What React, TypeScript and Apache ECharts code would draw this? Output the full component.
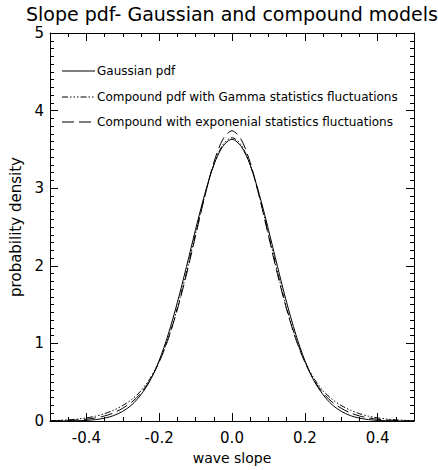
import React, { useEffect, useRef } from "react";
import * as echarts from "echarts";

const titleText = "Slope pdf- Gaussian and compound models";
const xName = "wave slope";
const yName = "probability density";

const xValues = [
  -0.5, -0.475, -0.45, -0.425, -0.4, -0.375, -0.35, -0.325, -0.3, -0.275, -0.25,
  -0.225, -0.2, -0.175, -0.15, -0.125, -0.1, -0.075, -0.05, -0.025, 0,
  0.025, 0.05, 0.075, 0.1, 0.125, 0.15, 0.175, 0.2, 0.225, 0.25,
  0.275, 0.3, 0.325, 0.35, 0.375, 0.4, 0.425, 0.45, 0.475, 0.5,
];

const gaussianPdf = [
  0, 0, 0.001, 0.003, 0.008, 0.018, 0.037, 0.07, 0.125, 0.21, 0.34,
  0.52, 0.78, 1.12, 1.53, 1.99, 2.47, 2.92, 3.3, 3.54, 3.63,
  3.54, 3.3, 2.92, 2.47, 1.99, 1.53, 1.12, 0.78, 0.52, 0.34,
  0.21, 0.125, 0.07, 0.037, 0.018, 0.008, 0.003, 0.001, 0, 0,
];

const gammaCompound = [
  0.005, 0.009, 0.015, 0.025, 0.04, 0.062, 0.095, 0.14, 0.2, 0.28, 0.39,
  0.55, 0.77, 1.07, 1.46, 1.92, 2.42, 2.9, 3.3, 3.56, 3.65,
  3.56, 3.3, 2.9, 2.42, 1.92, 1.46, 1.07, 0.77, 0.55, 0.39,
  0.28, 0.2, 0.14, 0.095, 0.062, 0.04, 0.025, 0.015, 0.009, 0.005,
];

const expCompound = [
  0.002, 0.004, 0.007, 0.013, 0.023, 0.04, 0.065, 0.105, 0.165, 0.245, 0.36,
  0.53, 0.76, 1.06, 1.44, 1.89, 2.39, 2.89, 3.33, 3.63, 3.74,
  3.63, 3.33, 2.89, 2.39, 1.89, 1.44, 1.06, 0.76, 0.53, 0.36,
  0.245, 0.165, 0.105, 0.065, 0.04, 0.023, 0.013, 0.007, 0.004, 0.002,
];

const xMajorTicks = [-0.4, -0.2, 0, 0.2, 0.4];

const seriesNames = [
  "Gaussian pdf",
  "Compound pdf with Gamma statistics fluctuations",
  "Compound with exponenial statistics fluctuations",
];
const seriesData = [gaussianPdf, gammaCompound, expCompound];
const dashTypes: any[] = ["solid", [6, 2, 1.5, 2, 1.5, 2, 1.5, 2], [12, 5]];

const FONT = "DejaVu Sans";

export default function App() {
  const ref = useRef<HTMLDivElement>(null);
  useEffect(() => {
    if (!ref.current) return;
    const chart = echarts.init(ref.current, null, { renderer: "svg" });
    const axisCommon = {
      type: "value" as const,
      min: -0.5,
      max: 0.5,
      splitLine: { show: false },
    };
    const lineStyle = { color: "#000", width: 1 };
    const legendGraphics: any[] = [];
    const legendY = [71, 97, 122];
    seriesNames.forEach((n, i) => {
      legendGraphics.push({
        type: "line",
        shape: { x1: 62, y1: legendY[i], x2: 95, y2: legendY[i] },
        style: { stroke: "#000", lineWidth: 1, lineDash: dashTypes[i] === "solid" ? null : dashTypes[i] },
      });
      legendGraphics.push({
        type: "text",
        x: 97,
        y: legendY[i],
        style: {
          text: n,
          font: `12px "${FONT}"`,
          fill: "#000",
          verticalAlign: "middle",
          align: "left",
        },
      });
    });
    chart.setOption({
      animation: false,
      backgroundColor: "#fff",
      grid: { left: 50, right: 24, top: 33, bottom: 45, containLabel: false },
      xAxis: [
        {
          ...axisCommon,
          position: "bottom",
          axisLine: { show: true, onZero: false, lineStyle },
          axisTick: { show: true, inside: true, length: 8, customValues: xMajorTicks, lineStyle },
          axisLabel: {
            show: true,
            customValues: xMajorTicks,
            formatter: (v: number) => v.toFixed(1),
            fontFamily: FONT,
            fontSize: 15,
            color: "#000",
            margin: 9,
          },
          name: xName,
          nameLocation: "middle",
          nameGap: 30,
          nameTextStyle: { fontFamily: FONT, fontSize: 14, color: "#000" },
        },
        {
          ...axisCommon,
          position: "bottom",
          interval: 0.05,
          axisLine: { show: false, onZero: false },
          axisTick: { show: true, inside: true, length: 4, lineStyle },
          axisLabel: { show: false },
        },
        {
          ...axisCommon,
          position: "top",
          axisLine: { show: true, onZero: false, lineStyle },
          axisTick: { show: true, inside: true, length: 8, customValues: xMajorTicks, lineStyle },
          axisLabel: { show: false },
        },
        {
          ...axisCommon,
          position: "top",
          interval: 0.05,
          axisLine: { show: false, onZero: false },
          axisTick: { show: true, inside: true, length: 4, lineStyle },
          axisLabel: { show: false },
        },
      ],
      yAxis: [
        {
          type: "value",
          min: 0,
          max: 5,
          interval: 1,
          position: "left",
          splitLine: { show: false },
          axisLine: { show: true, onZero: false, lineStyle },
          axisTick: { show: true, inside: true, length: 8, lineStyle },
          minorTick: { show: true, splitNumber: 10, length: 4, lineStyle },
          minorSplitLine: { show: false },
          axisLabel: { fontFamily: FONT, fontSize: 15, color: "#000", margin: 6 },
          name: yName,
          nameLocation: "middle",
          nameGap: 25,
          nameTextStyle: { fontFamily: FONT, fontSize: 15, color: "#000" },
        },
        {
          type: "value",
          min: 0,
          max: 5,
          interval: 1,
          position: "right",
          splitLine: { show: false },
          axisLine: { show: true, onZero: false, lineStyle },
          axisTick: { show: true, inside: true, length: 8, lineStyle },
          minorTick: { show: true, splitNumber: 10, length: 4, lineStyle },
          minorSplitLine: { show: false },
          axisLabel: { show: false },
        },
      ],
      graphic: [
        {
          type: "text",
          left: 26,
          top: 4,
          style: {
            text: titleText,
            font: `19px "${FONT}"`,
            fill: "#000",
          },
        },
        ...legendGraphics,
      ],
      series: seriesData.map((d, i) => ({
        type: "line",
        name: seriesNames[i],
        xAxisIndex: 0,
        yAxisIndex: 0,
        data: xValues.map((x, j) => [x, d[j]]),
        showSymbol: false,
        smooth: 0.3,
        lineStyle: { color: "#000", width: 1, type: dashTypes[i] },
        itemStyle: { color: "#000" },
      })),
    });
    return () => chart.dispose();
  }, []);
  return (
    <div
      ref={ref}
      style={{ position: "fixed", left: 0, top: 0, width: 438, height: 470 }}
    />
  );
}
